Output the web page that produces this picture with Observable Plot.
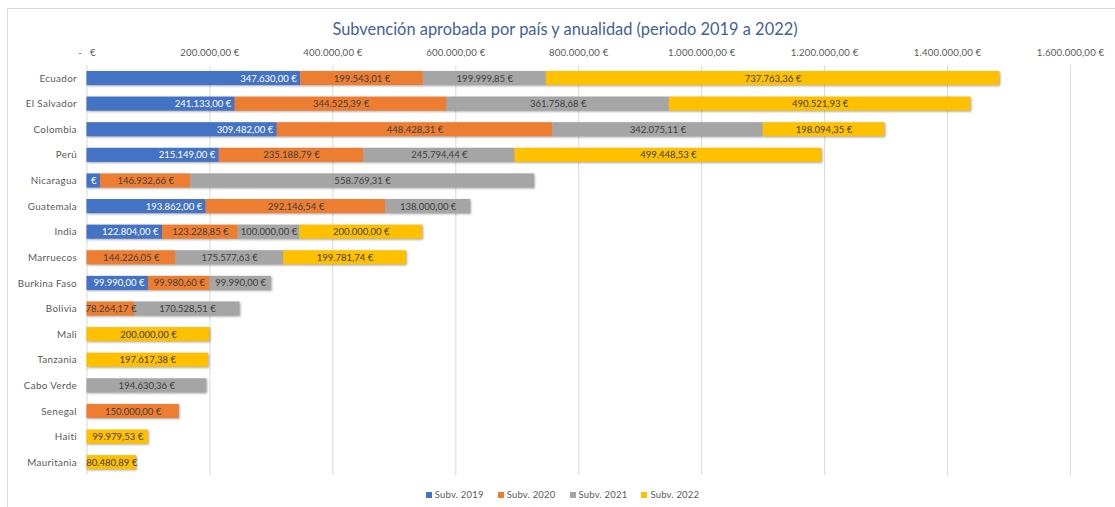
<!DOCTYPE html>
<html>
<head>
<meta charset="utf-8">
<script src="https://cdn.jsdelivr.net/npm/d3@7"></script>
<script src="https://cdn.jsdelivr.net/npm/@observablehq/plot@0.6"></script>
<style>
  html, body { margin: 0; padding: 0; background: #fff; }
  body { width: 1115px; height: 507px; position: relative; overflow: hidden; font-family: Lato, "Open Sans", sans-serif; }
  #frame { position: absolute; left: 7px; top: 8px; width: 1130px; height: 530px; border: 1px solid #d9d9d9; box-sizing: border-box; }
  #title { position: absolute; left: 0; top: 19px; width: 1130px; text-align: center; font-size: 16.4px; color: #44609e; }
  #chart { position: absolute; left: 0; top: 42px; }
  #legend { position: absolute; left: 0; top: 489px; width: 1125px; text-align: center; font-size: 9.5px; color: #595959; letter-spacing: 0.2px; }
  #legend span.item { margin: 0 7px; }
  #legend span.sw { display: inline-block; width: 6px; height: 6px; margin-right: 3px; vertical-align: 0px; }
  #chart g[aria-label="bar"] { filter: drop-shadow(1.5px 1.5px 1px rgba(0,0,0,0.35)); }
  #chart g[aria-label="y-axis"] text, #chart g[aria-label="y-axis tick label"] text { font-size: 9.8px; letter-spacing: 0.35px; }
  #chart g[aria-label="x-axis"] text, #chart g[aria-label="x-axis tick label"] text { font-size: 9.6px; letter-spacing: 0.2px; }
</style>
</head>
<body>
<div id="frame"></div>
<div id="title">Subvención aprobada por país y anualidad (periodo 2019 a 2022)</div>
<div id="chart"></div>
<div id="legend"></div>
<script>
const countries = ["Ecuador","El Salvador","Colombia","Perú","Nicaragua","Guatemala","India","Marruecos","Burkina Faso","Bolivia","Mali","Tanzania","Cabo Verde","Senegal","Haiti","Mauritania"];
const series = ["Subv.  2019","Subv. 2020","Subv. 2021","Subv. 2022"];
const colors = ["#4472c4","#ed7d31","#a5a5a5","#ffc000"];
const v2019 = [347630.00, 241133.00, 309482.00, 215149.00, 22000, 193862.00, 122804.00, 0, 99990.00, 0, 0, 0, 0, 0, 0, 0];
const v2020 = [199543.01, 344525.39, 448428.31, 235188.79, 146932.66, 292146.54, 123228.85, 144226.05, 99980.60, 78264.17, 0, 0, 0, 150000.00, 0, 0];
const v2021 = [199999.85, 361758.68, 342075.11, 245794.44, 558769.31, 138000.00, 100000.00, 175577.63, 99990.00, 170528.51, 0, 0, 194630.36, 0, 0, 0];
const v2022 = [737763.36, 490521.93, 198094.35, 499448.53, 0, 0, 200000.00, 199781.74, 0, 0, 200000.00, 197617.38, 0, 0, 99979.53, 80480.89];
const xTicks = [0, 200000, 400000, 600000, 800000, 1000000, 1200000, 1400000, 1600000];

const valuesBySeries = [v2019, v2020, v2021, v2022];
const rows = [];
countries.forEach((c, i) => {
  let acc = 0;
  valuesBySeries.forEach((arr, s) => {
    const v = arr[i];
    if (v > 0) {
      rows.push({country: c, series: series[s], si: s, value: v, x1: acc, x2: acc + v});
      acc += v;
    }
  });
});

function fmtEur(v) {
  const [a, b] = v.toFixed(2).split(".");
  return a.replace(/\B(?=(\d{3})+(?!\d))/g, ".") + "," + b + " €";
}
function tickFmt(v) {
  return v === 0 ? "-   €" : fmtEur(v);
}
// segments too narrow for their label only show the visible "€" (as in the reference)
function labelText(d) {
  return d.value < 40000 ? "€" : fmtEur(d.value);
}

const chart = Plot.plot({
  width: 1115,
  height: 440,
  marginLeft: 86.5,
  marginRight: 45,
  marginTop: 23.2,
  marginBottom: 7,
  style: {fontFamily: "Lato, 'Open Sans', sans-serif", fontSize: "9px", color: "#595959", background: "transparent"},
  x: {domain: [0, 1600000], axis: "top", ticks: xTicks, tickFormat: tickFmt, tickSize: 0, tickPadding: 10, label: null},
  y: {domain: countries, paddingInner: 0.45, paddingOuter: 0.225, round: false, tickSize: 0, tickPadding: 10, label: null},
  color: {domain: series, range: colors},
  marks: [
    Plot.ruleX(xTicks, {x: d => d, stroke: "#d9d9d9", strokeWidth: 1}),
    Plot.barX(rows, {x1: "x1", x2: "x2", y: "country", fill: "series"}),
    Plot.text(rows.filter(d => d.si === 0), {x: "x2", dx: -4, textAnchor: "end", y: "country", text: labelText, fill: "white", fontSize: 9.5}),
    Plot.text(rows.filter(d => d.si !== 0), {x: d => (d.x1 + d.x2) / 2, y: "country", text: labelText, fill: "#404040", fontSize: 9.5, clip: true})
  ]
});
document.getElementById("chart").appendChild(chart);

const legend = document.getElementById("legend");
series.forEach((s, i) => {
  const item = document.createElement("span");
  item.className = "item";
  const sw = document.createElement("span");
  sw.className = "sw";
  sw.style.background = colors[i];
  item.appendChild(sw);
  item.appendChild(document.createTextNode(s));
  legend.appendChild(item);
});
</script>
</body>
</html>
